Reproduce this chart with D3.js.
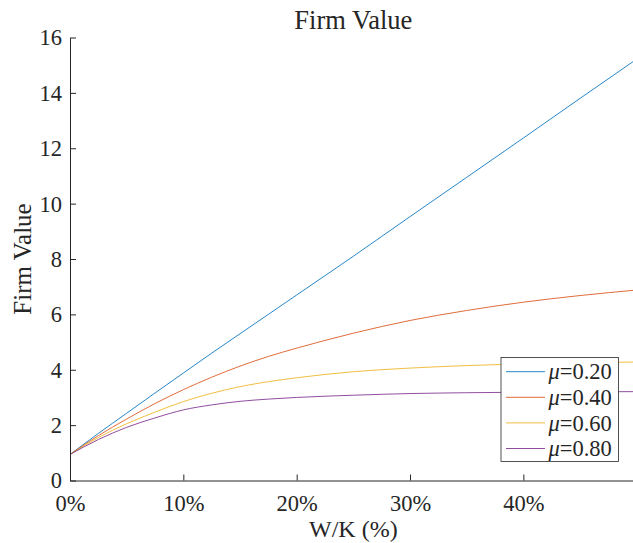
<!DOCTYPE html>
<html>
<head>
<meta charset="utf-8">
<script src="https://cdn.jsdelivr.net/npm/d3@7"></script>
<style>
  html, body { margin: 0; padding: 0; background: #fff; }
  svg { display: block; font-family: "Liberation Serif", "Times New Roman", serif; }
</style>
</head>
<body>
<svg id="chart" width="633" height="543"></svg>
<script>
// W/K ratio (fraction) at which firm value is sampled
const wk = [0, 0.025, 0.05, 0.075, 0.10, 0.125, 0.15, 0.175, 0.20, 0.25, 0.30, 0.35, 0.40, 0.45, 0.50];

// Firm value for each μ
const mu020 = [0.94, 1.70, 2.43, 3.16, 3.88, 4.60, 5.30, 6.00, 6.70, 8.10, 9.53, 10.95, 12.37, 13.80, 15.22];
const mu040 = [0.94, 1.62, 2.22, 2.78, 3.28, 3.73, 4.13, 4.48, 4.78, 5.32, 5.78, 6.14, 6.44, 6.68, 6.88];
const mu060 = [0.94, 1.55, 2.05, 2.47, 2.85, 3.15, 3.39, 3.57, 3.71, 3.93, 4.06, 4.15, 4.21, 4.25, 4.28];
const mu080 = [0.94, 1.48, 1.92, 2.26, 2.55, 2.73, 2.86, 2.94, 3.00, 3.08, 3.14, 3.17, 3.19, 3.20, 3.21];

const seriesLabels = ["0.20", "0.40", "0.60", "0.80"];
const seriesValues = [mu020, mu040, mu060, mu080];
const colors = ["#0072BD", "#D95319", "#EDB120", "#7E2F8E"];

const xTicks = [0, 0.1, 0.2, 0.3, 0.4];
const yTicks = [0, 2, 4, 6, 8, 10, 12, 14, 16];

const svg = d3.select("#chart");
const ink = "#262626";

const x = d3.scaleLinear().domain([0, 0.5]).range([70, 636.7]);
const y = d3.scaleLinear().domain([0, 16]).range([480.5, 37.5]);

// Curves
const line = d3.line()
  .x((d, i) => x(wk[i]))
  .y(d => y(d))
  .curve(d3.curveMonotoneX);

svg.append("g").selectAll("path")
  .data(seriesValues)
  .join("path")
  .attr("d", d => line(d))
  .attr("fill", "none")
  .attr("stroke", (d, i) => colors[i])
  .attr("stroke-opacity", 0.85)
  .attr("stroke-width", 1);

// Axes (ticks point inward)
const xAxis = d3.axisBottom(x).tickValues(xTicks)
  .tickFormat(d => Math.round(d * 100) + "%")
  .tickSize(-6).tickPadding(17).tickSizeOuter(0);
const yAxis = d3.axisLeft(y).tickValues(yTicks)
  .tickFormat(d3.format("d"))
  .tickSize(-6).tickPadding(16).tickSizeOuter(0);

const gx = svg.append("g").attr("transform", `translate(0,${y(0)})`).call(xAxis);
const gy = svg.append("g").attr("transform", `translate(${x(0)},0)`).call(yAxis);

[gx, gy].forEach(g => {
  g.select(".domain").attr("stroke", ink).attr("stroke-width", 1);
  g.selectAll(".tick line").attr("stroke", ink).attr("stroke-width", 1);
  g.selectAll(".tick text")
    .attr("fill", ink)
    .style("font-family", "'Liberation Serif', 'Times New Roman', serif")
    .style("font-size", "22.5px");
});
gy.selectAll(".tick text").attr("dx", "8px").attr("dy", "0.33em");
gx.selectAll(".tick text").attr("dy", "0.6em");

// Title and axis labels
svg.append("text")
  .attr("x", (x(0) + x(0.5)) / 2).attr("y", 29.3)
  .attr("text-anchor", "middle")
  .attr("fill", ink).style("font-size", "26.5px")
  .text("Firm Value");

svg.append("text")
  .attr("x", (x(0) + x(0.5)) / 2).attr("y", 536.5)
  .attr("text-anchor", "middle")
  .attr("fill", ink).style("font-size", "24px")
  .text("W/K (%)");

svg.append("text")
  .attr("transform", `translate(31,${(y(0) + y(16)) / 2}) rotate(-90)`)
  .attr("text-anchor", "middle")
  .attr("fill", ink).style("font-size", "25px")
  .text("Firm Value");

// Legend
const legend = svg.append("g").attr("transform", "translate(501,357.5)");
legend.append("rect")
  .attr("width", 117.5).attr("height", 104)
  .attr("fill", "#fff").attr("stroke", ink).attr("stroke-width", 0.8);

const rows = legend.selectAll("g.row")
  .data(seriesLabels)
  .join("g")
  .attr("class", "row")
  .attr("transform", (d, i) => `translate(0,${14.2 + i * 25.6})`);

rows.append("line")
  .attr("x1", 5).attr("x2", 44)
  .attr("stroke", (d, i) => colors[i])
  .attr("stroke-opacity", 0.85)
  .attr("stroke-width", 1);

const lt = rows.append("text")
  .attr("x", 47.5).attr("y", 7.6)
  .attr("fill", ink).style("font-size", "22.5px");
lt.append("tspan").style("font-style", "italic").text("\u03bc");
lt.append("tspan").text(d => "=" + d);
</script>
</body>
</html>
